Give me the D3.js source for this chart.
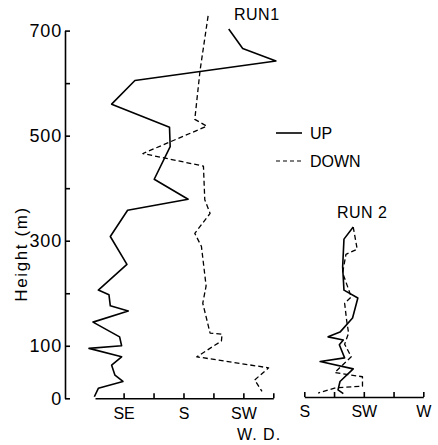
<!DOCTYPE html>
<html>
<head>
<meta charset="utf-8">
<script src="https://cdn.jsdelivr.net/npm/d3@7"></script>
<style>
  body { margin: 0; background: #fff; }
  svg { font-family: "Liberation Sans", Arial, sans-serif; }
</style>
</head>
<body>
<div class="chart-container"></div>
<script>
// heights (m) and wind directions (deg)
var run1UpHeight = [703, 666, 642, 605, 560, 516, 479, 417, 379, 358, 308, 255, 206, 197, 176, 166, 145, 117, 100, 95, 79, 63, 44, 32, 19, 3];
var run1UpDir = [214, 224.5, 249.5, 143.5, 126, 169.5, 170, 158, 183.5, 138, 125, 137.5, 116, 124, 125, 138.5, 112, 132, 133.5, 109, 133.5, 126, 128.5, 134.5, 116, 113];

var run1DownHeight = [728, 625, 531, 518, 466, 442, 378, 352, 314, 289, 214, 181, 124, 122, 109, 79, 58, 35, 13];
var run1DownDir = [198.5, 192.5, 188.5, 197.5, 149.5, 195, 196, 200, 188.5, 193.5, 197, 194.5, 200, 209, 208.5, 190, 244, 233.5, 239];

var run2UpHeight = [326, 303, 250, 206, 191, 153, 126, 117, 111, 102, 77, 70, 56, 32, 16, 9];
var run2UpDir = [217, 210, 209, 210, 220.5, 216.5, 207, 198, 209.5, 206.5, 210.5, 192, 217, 207, 205.5, 209.5];

var run2DownHeight = [326, 284, 274, 239, 193, 181, 149, 124, 103, 79, 49, 41, 23, 20, 10];
var run2DownDir = [217, 220, 211.5, 209, 215.5, 210.5, 212, 213.5, 210.5, 215.5, 203, 224, 224, 203.5, 190.5];

var heightTicks = [0, 100, 200, 300, 400, 500, 600, 700];
var heightLabels = [0, 100, 300, 500, 700];
var run1Ticks = [135, 157.5, 180, 202.5, 225, 247.5];
var run2Ticks = [180, 202.5, 225, 247.5, 270];
var dirNames = {135: 'SE', 180: 'S', 225: 'SW', 270: 'W'};

function pairs(h, d) {
  return h.map(function (v, i) { return {h: v, d: d[i]}; });
}

var width = 438, height = 445;

var svg = d3.select('.chart-container').append('svg')
    .attr('width', width)
    .attr('height', height);

var y = d3.scaleLinear().domain([0, 700]).range([398.3, 30.6]);
var x1 = d3.scaleLinear().domain([113.5, 247.5]).range([95, 273.3]);
var x2 = d3.scaleLinear().domain([180, 270]).range([304.3, 423.3]);

// height axis, ticks pointing inward
var yAxis = d3.axisRight(y)
    .tickValues(heightTicks)
    .tickSize(5)
    .tickSizeOuter(0)
    .tickFormat('');

svg.append('g')
    .attr('class', 'y axis')
    .attr('transform', 'translate(65,0)')
    .call(yAxis);

svg.selectAll('.hlabel')
    .data(heightLabels)
  .enter().append('text')
    .attr('class', 'hlabel')
    .attr('x', 62)
    .attr('y', function (d) { return y(d); })
    .attr('dy', '0.36em')
    .attr('text-anchor', 'end')
    .style('font-size', '18px')
    .style('letter-spacing', '0.8px')
    .text(function (d) { return d; });

svg.append('text')
    .attr('transform', 'translate(27,254) rotate(-90)')
    .attr('text-anchor', 'middle')
    .style('font-size', '17px')
    .style('letter-spacing', '1.6px')
    .text('Height (m)');

function dirAxis(scale, ticks, y0) {
  var g = svg.append('g')
      .attr('class', 'x axis')
      .attr('transform', 'translate(0,' + y0 + ')')
      .call(d3.axisBottom(scale)
        .tickValues(ticks)
        .tickSizeInner(-5)
        .tickSizeOuter(0)
        .tickPadding(9)
        .tickFormat(function (d) { return dirNames[d] || ''; }));
  g.selectAll('text')
      .style('font-size', '16px')
      .style('font-family', '"Liberation Sans", Arial, sans-serif')
      .attr('fill', '#000');
  return g;
}

dirAxis(x1, run1Ticks, 398.3);
dirAxis(x2, run2Ticks, 397);

svg.selectAll('.axis path, .axis line')
    .attr('stroke', '#000')
    .attr('stroke-width', 1.6);

var line1 = d3.line()
    .x(function (d) { return x1(d.d); })
    .y(function (d) { return y(d.h); });

var line2 = d3.line()
    .x(function (d) { return x2(d.d); })
    .y(function (d) { return y(d.h); });

function drawLine(data, gen, dashed) {
  svg.append('path')
      .datum(data)
      .attr('d', gen)
      .attr('fill', 'none')
      .attr('stroke', '#000')
      .attr('stroke-width', dashed ? 1.3 : 1.6)
      .attr('stroke-linejoin', 'round')
      .attr('stroke-dasharray', dashed ? '5,3' : null);
}

drawLine(pairs(run1UpHeight, run1UpDir), line1, false);
drawLine(pairs(run1DownHeight, run1DownDir), line1, true);
drawLine(pairs(run2UpHeight, run2UpDir), line2, false);
drawLine(pairs(run2DownHeight, run2DownDir), line2, true);

// run titles
svg.append('text').attr('x', 234).attr('y', 20)
    .style('font-size', '16px').style('letter-spacing', '0.5px').text('RUN1');
svg.append('text').attr('x', 337).attr('y', 218)
    .style('font-size', '16px').style('letter-spacing', '0.5px').text('RUN 2');

// legend
var legend = [{name: 'UP', dashed: false, y: 133}, {name: 'DOWN', dashed: true, y: 161}];
legend.forEach(function (l) {
  svg.append('line')
      .attr('x1', 276).attr('x2', 302)
      .attr('y1', l.y).attr('y2', l.y)
      .attr('stroke', '#000')
      .attr('stroke-width', l.dashed ? 1.2 : 1.6)
      .attr('stroke-dasharray', l.dashed ? '4,3' : null);
  svg.append('text')
      .attr('x', 310).attr('y', l.y + 5.5)
      .style('font-size', '16px')
      .text(l.name);
});

svg.append('text')
    .attr('x', 237).attr('y', 440)
    .style('font-size', '16px')
    .style('letter-spacing', '1px')
    .text('W. D.');
</script>
</body>
</html>
